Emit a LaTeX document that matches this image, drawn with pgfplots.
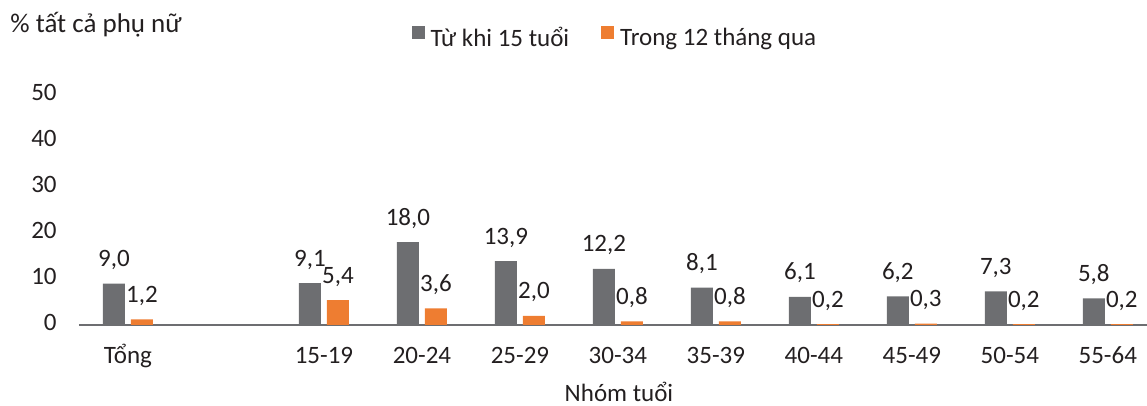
\documentclass[border=0pt]{standalone}
\usepackage{fontspec}
\setmainfont{Carlito}
\usepackage{pgfplots}
\pgfplotsset{compat=1.18}

\definecolor{barGray}{HTML}{6D6E71}
\definecolor{barOrange}{HTML}{EE7D31}
\definecolor{txt}{HTML}{231F20}

\begin{document}
\begin{tikzpicture}[font=\fontsize{12.5}{15}\selectfont, text=txt]
\begin{axis}[
  at={(39.5pt,40.5pt)}, anchor=south west,
  scale only axis,
  width=534pt, height=115pt,
  xmin=-0.5, xmax=10.4,
  ymin=0, ymax=50,
  ytick={0,10,...,50},
  xtick={0,2,3,4,5,6,7,8,9,10},
  xticklabels={Tổng,15-19,20-24,25-29,30-34,35-39,40-44,45-49,50-54,55-64},
  /pgf/number format/assume math mode=true,
  axis lines*=left,
  x axis line style={draw=barGray, line width=1pt},
  y axis line style={draw=none},
  major tick length=0pt,
  xticklabel style={anchor=base, inner sep=0pt, yshift=-19.5pt},
  yticklabel style={anchor=east, inner sep=0pt, xshift=-11pt, yshift=1.5pt},
  xlabel={Nhóm tuổi},
  xlabel style={at={(axis description cs:0.5056,-0.3348)}, anchor=base, inner sep=0pt},
  ybar, bar width=11pt,
  nodes near coords,
  every node near coord/.append style={anchor=base, inner sep=0pt, yshift=8.5pt, text=txt,
    /pgf/number format/.cd, fixed, fixed zerofill, precision=1, use comma},
  legend columns=2,
  legend style={at={(axis description cs:0.311,1.248)}, anchor=west,
    draw=none, fill=none, inner sep=0pt,
    nodes={inner sep=0pt, text=txt},
    /tikz/every odd column/.append style={column sep=3pt},
    /tikz/every even column/.append style={column sep=16pt}},
  legend image code/.code={\fill[#1] (0pt,-0.5pt) rectangle (6.5pt,6pt);},
  clip=false,
]
% lifetime prevalence since age 15
\addplot[fill=barGray, draw=none, bar shift=-7pt] coordinates {
  (0,9.0) (2,9.1) (3,18.0) (4,13.9) (5,12.2) (6,8.1) (7,6.1) (8,6.2) (9,7.3) (10,5.8)};
% prevalence in the last 12 months
\addplot[fill=barOrange, draw=none, bar shift=7pt] coordinates {
  (0,1.2) (2,5.4) (3,3.6) (4,2.0) (5,0.8) (6,0.8) (7,0.2) (8,0.3) (9,0.2) (10,0.2)};
\legend{Từ khi 15 tuổi, Trong 12 tháng qua}
\node[anchor=base west, inner sep=0pt, font=\fontsize{13.5}{16}\selectfont]
  at (axis description cs:-0.0646,1.2696) {\% tất cả phụ nữ};
\end{axis}
\pgfresetboundingbox
\useasboundingbox (0,0) rectangle (573.5pt,203pt);
\end{tikzpicture}
\end{document}
